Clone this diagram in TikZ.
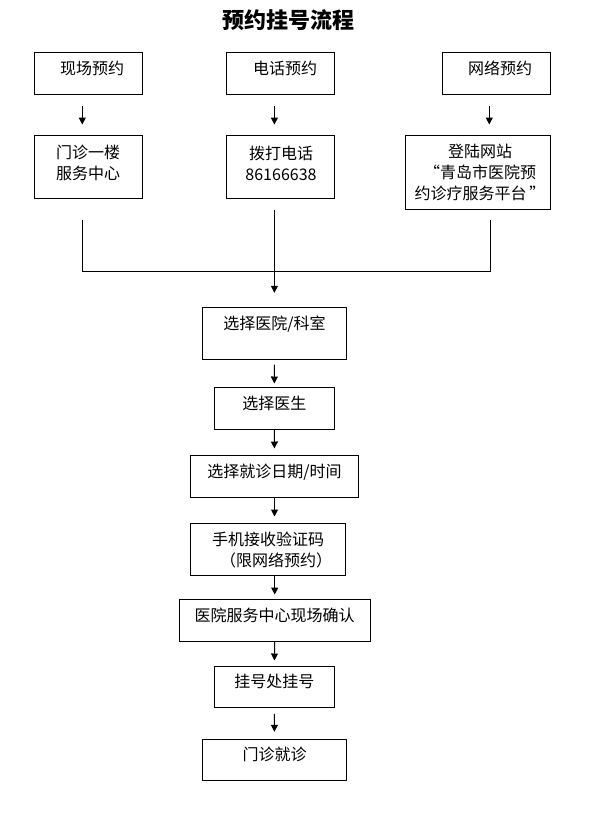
\documentclass[tikz,border=0pt]{standalone}
\usepackage{fontspec}
\setmainfont{Noto Sans CJK SC}
\usetikzlibrary{arrows.meta}

\begin{document}
\begin{tikzpicture}[x=1bp,y=-1bp,
    box/.style={draw,line width=1bp,inner sep=0pt},
    txt/.style={inner sep=0pt,align=center,font=\fontsize{16bp}{21bp}\selectfont},
    link/.style={line width=1bp},
    flow/.style={line width=1bp,-{Triangle[length=7bp,width=7bp]}}]
    \useasboundingbox (0,0) rectangle (598,839);

    % titolo
    \node[inner sep=0pt,font=\fontsize{22bp}{26bp}\selectfont\bfseries] (title) at (288,20) {预约挂号流程};

    % tre modi di prenotazione
    \node[box,minimum width=108bp,minimum height=41.3bp] (walkin) at (88.3,73.4) {};
    \node[box,minimum width=107.6bp,minimum height=41.3bp] (phonebk) at (280.5,73.4) {};
    \node[box,minimum width=108.4bp,minimum height=41.3bp] (online) at (496.5,73.4) {};
    \node[txt] (walkintxt) at (92,68) {现场预约};
    \node[txt] (phonebktxt) at (285,68) {电话预约};
    \node[txt] (onlinetxt) at (500,68) {网络预约};

    \node[box,minimum width=108bp,minimum height=62.3bp] (clinic) at (88.3,166.9) {};
    \node[box,minimum width=107.6bp,minimum height=62.3bp] (dial) at (280.5,166.9) {};
    \node[box,minimum width=144.7bp,minimum height=73.6bp] (web) at (478.3,172.5) {};
    \node[txt] (clinictxt) at (88,163) {门诊一楼\\服务中心};
    \node[txt] (dialtxt) at (281,163.5) {拨打电话\\86166638};
    \node[txt] (webtxt) at (480,172) {登陆网站\\“青岛市医院预\\约诊疗服务平台\,”};

    \draw[flow,shorten <=11.7bp,shorten >=10.7bp] ([xshift=-6bp]walkin.south) -- ([xshift=-6bp]clinic.north);
    \coordinate (join) at (274.4,271);
    \draw[flow,shorten <=11.7bp,shorten >=10.7bp] (phonebk.south -| join) -- (dial.north -| join);
    \draw[flow,shorten <=11.7bp,shorten >=10.7bp] ([xshift=-7.2bp]online.south) -- ([xshift=-7.2bp]online.south |- web.north);

    % linee di raccordo
    \draw[link,shorten <=21bp] ([xshift=-6bp]clinic.south) |- (join);
    \draw[link,shorten <=11bp] (dial.south -| join) -- (join);
    \draw[link,shorten <=10bp] ([xshift=12.5bp]web.south) |- (join);

    % percorso comune
    \node[box,minimum width=144.4bp,minimum height=52bp] (hosp) at (274.5,333.3) {};
    \node[box,minimum width=120bp,minimum height=42bp] (doctor) at (274.3,408.3) {};
    \node[box,minimum width=167.6bp,minimum height=41.6bp] (date) at (274.5,476.5) {};
    \node[box,minimum width=155.3bp,minimum height=51.6bp] (sms) at (268.3,549.5) {};
    \node[box,minimum width=191.3bp,minimum height=41.7bp] (confirm) at (274.7,620.2) {};
    \node[box,minimum width=120bp,minimum height=41bp] (regist) at (274.3,686.8) {};
    \node[box,minimum width=144.4bp,minimum height=41bp] (visit) at (274.5,759.8) {};

    \node[txt] (hosptxt) at (274.5,324) {选择医院/科室};
    \node[txt] (doctortxt) at (274.3,403) {选择医生};
    \node[txt] (datetxt) at (274.5,471.7) {选择就诊日期/时间};
    \node[txt,align=left,anchor=west] (smstxt) at (212,549.5) {手机接收验证码\\\hspace*{8bp}（限网络预约）};
    \node[txt] (confirmtxt) at (274.7,615) {医院服务中心现场确认};
    \node[txt] (registtxt) at (274.3,681) {挂号处挂号};
    \node[txt] (visittxt) at (274.5,754) {门诊就诊};

    \draw[flow,shorten >=14bp] (join) -- (hosp.north -| join);
    \draw[flow,shorten <=4.7bp,shorten >=3.3bp] (hosp) -- (doctor);
    \draw[flow,shorten >=6.7bp] (doctor) -- (date);
    \draw[flow,shorten >=6.7bp] (date.south) -- (date.south |- sms.north);
    \draw[flow,shorten >=4.3bp] (sms.south -| confirm) -- (confirm.north);
    \draw[flow,shorten >=5.3bp] (confirm) -- (regist);
    \draw[flow,shorten <=6bp,shorten >=7bp] (regist) -- (visit);

\end{tikzpicture}
\end{document}
